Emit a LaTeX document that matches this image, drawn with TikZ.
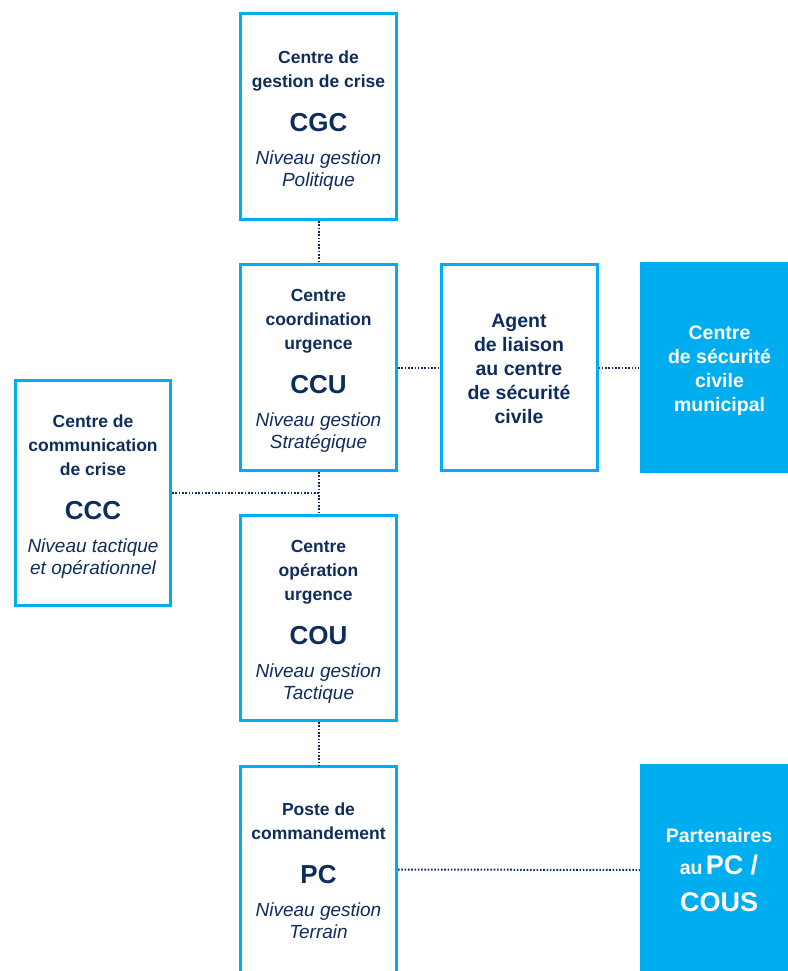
\documentclass[tikz,border=0pt]{standalone}
\usepackage{fontspec}
\setmainfont{Liberation Sans}
\definecolor{navy}{HTML}{0F2D5C}
\definecolor{skyb}{HTML}{00AEEF}
\newcommand{\hd}{\fontsize{17.5}{24}\selectfont\bfseries\upshape}
\newcommand{\hdl}{\fontsize{19.5}{24}\selectfont\bfseries\upshape}
\newcommand{\ab}{\fontsize{26}{24}\selectfont\bfseries\upshape}
\newcommand{\abl}{\fontsize{27}{24}\selectfont\bfseries\upshape}
\newcommand{\lvl}{\fontsize{19}{22}\selectfont\mdseries\itshape}
\newcommand{\tstrut}[1]{\rule{0pt}{#1pt}}
\tikzset{
  box/.style={draw=skyb, line width=3pt, fill=white, minimum width=156pt,
    minimum height=206pt, align=center, text=navy, inner sep=0pt, font=\hd},
  filledbox/.style={fill=skyb, draw=none, minimum width=160pt, minimum height=211pt,
    align=center, text=white, inner sep=0pt, font=\hdl},
  link/.style={draw=navy, line width=2pt, dash pattern=on 1.6pt off 1.7pt}
}
\begin{document}
\begin{tikzpicture}[x=1pt,y=-1pt]
\useasboundingbox (0,0) rectangle (787,971);
\node[box] (cgc) at (318.5,116.5)
  {\tstrut{20.5}Centre de\\gestion de crise\\[20pt]\ab CGC\\[9pt]\lvl Niveau gestion\\[-2pt]\lvl Politique};
\node[box] (ccu) at (318.5,367.5)
  {\tstrut{18.5}Centre\\coordination\\urgence\\[20pt]\ab CCU\\[9pt]\lvl Niveau gestion\\[-2pt]\lvl Stratégique};
\node[box, font=\hdl] (agent) at (519,367.5)
  {\tstrut{16}Agent\\de liaison\\au centre\\de sécurité\\civile};
\node[filledbox] (csc) at (719.5,367.5)
  {\tstrut{20}Centre\\de sécurité\\civile\\municipal};
\node[box, minimum width=155pt, minimum height=225pt] (ccc) at (93,493)
  {\tstrut{20.5}Centre de\\communication\\de crise\\[20pt]\ab CCC\\[9pt]\lvl Niveau tactique\\[-2pt]\lvl et opérationnel};
\node[box, minimum height=205pt] (cou) at (318.5,618)
  {\tstrut{19.5}Centre\\opération\\urgence\\[20pt]\ab COU\\[9pt]\lvl Niveau gestion\\[-2pt]\lvl Tactique};
\node[box] (pc) at (318.5,869.5)
  {\tstrut{14.5}Poste de\\commandement\\[20pt]\ab PC\\[9pt]\lvl Niveau gestion\\[-2pt]\lvl Terrain};
\node[filledbox, minimum width=158pt, minimum height=212pt] (part) at (719,870)
  {Partenaires\\[8pt]au\,{\abl PC /}\\[13pt]\abl COUS};
\coordinate (j) at (ccu.south |- ccc.east);
\draw[link] (cgc.south) -- (ccu.north);
\draw[link] (ccu.east) -- (agent.west);
\draw[link] (agent.east) -- (csc.west);
\draw[link] (ccu.south) -- (cou.north);
\draw[link] (ccc.east) -- (j);
\draw[link] (cou.south) -- (pc.north);
\draw[link] (pc.east) -- (part.west);
\end{tikzpicture}
\end{document}
